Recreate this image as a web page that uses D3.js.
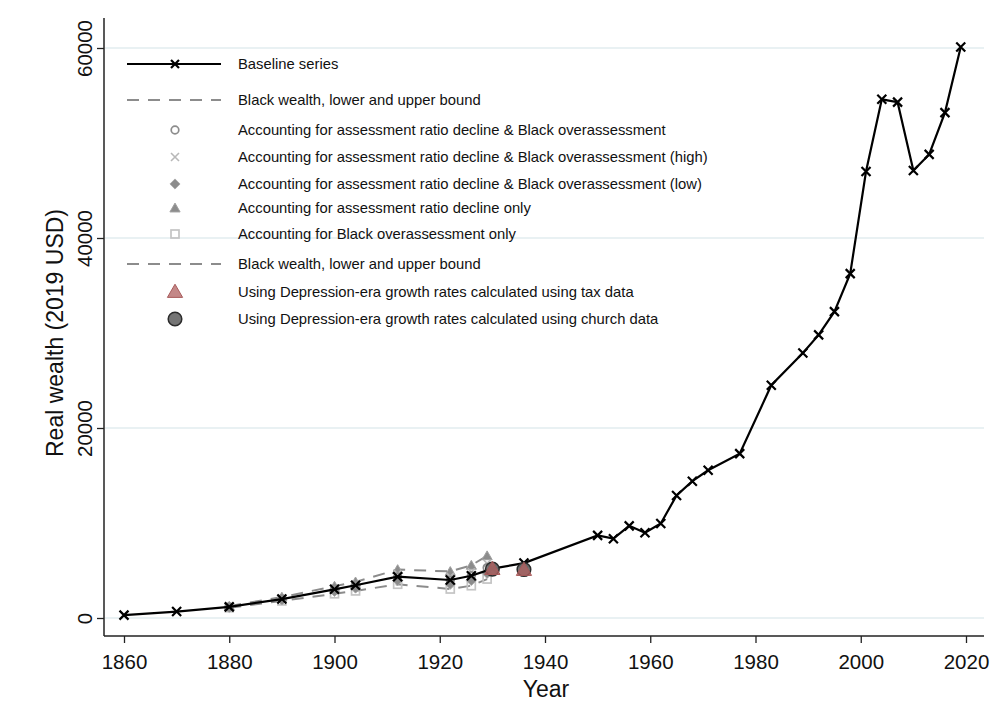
<!DOCTYPE html>
<html>
<head>
<meta charset="utf-8">
<script src="https://cdn.jsdelivr.net/npm/d3@7"></script>
<style>
  html, body { margin: 0; padding: 0; background: #fff; }
  svg { display: block; font-family: "Liberation Sans", Arial, sans-serif; }
</style>
</head>
<body>
<svg id="chart" width="999" height="727"></svg>
<script>
// Baseline series (real wealth, 2019 USD)
const baseYears  = [1860, 1870, 1880, 1890, 1900, 1904, 1912, 1922, 1926, 1930, 1936, 1950, 1953, 1956, 1959, 1962, 1965, 1968, 1971, 1977, 1983, 1989, 1992, 1995, 1998, 2001, 2004, 2007, 2010, 2013, 2016, 2019];
const baseValues = [300, 680, 1170, 1990, 3020, 3450, 4350, 4000, 4450, 5200, 5780, 8700, 8350, 9700, 8980, 9950, 12900, 14400, 15550, 17300, 24500, 27900, 29800, 32250, 36250, 47000, 54600, 54300, 47100, 48800, 53200, 60100];

// Alternative estimates, 1880-1929
const altYears   = [1880, 1890, 1900, 1904, 1912, 1922, 1926, 1929];
const upperBound = [1250, 2200, 3350, 3800, 5100, 4900, 5550, 6550];
const lowerBound = [1080, 1800, 2550, 2850, 3550, 3050, 3400, 4100];
const bothAdj    = [1170, 2000, 3000, 3420, 4320, 3980, 4450, 5300];
const bothHigh   = [1200, 2080, 3150, 3600, 4650, 4350, 4850, 5750];
const bothLow    = [1120, 1900, 2800, 3150, 3950, 3550, 3950, 4700];
const ratioOnly  = upperBound;
const overOnly   = lowerBound;

// Depression-era growth-rate estimates
const deprYears  = [1930, 1936];
const taxValues  = [5150, 5050];
const churchVals = [5150, 5100];

const xTicks = [1860, 1880, 1900, 1920, 1940, 1960, 1980, 2000, 2020];
const yTicks = [0, 20000, 40000, 60000];

const legendLabels = [
  "Baseline series",
  "Black wealth, lower and upper bound",
  "Accounting for assessment ratio decline & Black overassessment",
  "Accounting for assessment ratio decline & Black overassessment (high)",
  "Accounting for assessment ratio decline & Black overassessment (low)",
  "Accounting for assessment ratio decline only",
  "Accounting for Black overassessment only",
  "Black wealth, lower and upper bound",
  "Using Depression-era growth rates calculated using tax data",
  "Using Depression-era growth rates calculated using church data"
];

const svg = d3.select("#chart");
svg.append("rect").attr("width", 999).attr("height", 727).attr("fill", "#fff");

const x = d3.scaleLinear().domain([1860, 2020]).range([124, 966]);
const y = d3.scaleLinear().domain([0, 60000]).range([618, 48]);

const plotLeft = 104, plotRight = 984, axisY = 636, plotTop = 18;

// Gridlines
svg.append("g").selectAll("line").data(yTicks).join("line")
  .attr("x1", plotLeft + 1).attr("x2", plotRight)
  .attr("y1", d => y(d)).attr("y2", d => y(d))
  .attr("stroke", "#e9f1f3").attr("stroke-width", 2);

// Axes
const yAxis = d3.axisLeft(y).tickValues(yTicks).tickSize(7).tickFormat(d3.format("d"));
const gy = svg.append("g").attr("transform", `translate(${plotLeft},0)`).call(yAxis);
gy.select(".domain").remove();
gy.selectAll(".tick line").attr("stroke", "#222").attr("stroke-width", 1.3);
gy.selectAll(".tick text").remove();
gy.selectAll(".tick").append("text")
  .attr("transform", "translate(-19,0) rotate(-90)")
  .attr("text-anchor", "middle")
  .attr("dy", "0.36em")
  .attr("fill", "#111")
  .style("font-size", "20.5px")
  .text(d => d);

const xAxis = d3.axisBottom(x).tickValues(xTicks).tickSize(7).tickFormat(d3.format("d"));
const gx = svg.append("g").attr("transform", `translate(0,${axisY})`).call(xAxis);
gx.select(".domain").remove();
gx.selectAll(".tick line").attr("stroke", "#222").attr("stroke-width", 1.3);
gx.selectAll(".tick text").attr("fill", "#111").style("font-size", "20.5px").attr("dy", "1.1em")
  .attr("font-family", "Liberation Sans, Arial, sans-serif");

svg.append("line").attr("x1", plotLeft).attr("x2", plotLeft).attr("y1", plotTop).attr("y2", axisY)
  .attr("stroke", "#222").attr("stroke-width", 1.5);
svg.append("line").attr("x1", plotLeft).attr("x2", plotRight).attr("y1", axisY).attr("y2", axisY)
  .attr("stroke", "#222").attr("stroke-width", 1.5);

// Axis titles
svg.append("text").attr("x", 546).attr("y", 697).attr("text-anchor", "middle")
  .style("font-size", "23px").attr("fill", "#111").text("Year");
svg.append("text").attr("transform", "translate(63,333) rotate(-90)").attr("text-anchor", "middle")
  .style("font-size", "23px").attr("fill", "#111").text("Real wealth (2019 USD)");

// Marker painters
const grayDark = "#8c8c8c", grayLight = "#b8b8b8";
function drawX(g, cx, cy, s, color, w) {
  g.append("path").attr("d", `M${cx - s},${cy - s}L${cx + s},${cy + s}M${cx - s},${cy + s}L${cx + s},${cy - s}`)
    .attr("stroke", color).attr("stroke-width", w).attr("fill", "none");
}
function drawCircle(g, cx, cy) {
  g.append("circle").attr("cx", cx).attr("cy", cy).attr("r", 3.8)
    .attr("fill", "none").attr("stroke", grayDark).attr("stroke-width", 1.7);
}
function drawDiamond(g, cx, cy) {
  g.append("rect").attr("x", -3.6).attr("y", -3.6).attr("width", 7.2).attr("height", 7.2)
    .attr("transform", `translate(${cx},${cy}) rotate(45)`)
    .attr("fill", grayDark).attr("stroke", "#a8a8a8").attr("stroke-width", 0.8);
}
function drawTriangle(g, cx, cy, size, fill, stroke) {
  g.append("path").attr("d", d3.symbol(d3.symbolTriangle, size)()).attr("transform", `translate(${cx},${cy + 1})`)
    .attr("fill", fill).attr("stroke", stroke).attr("stroke-width", 1);
}
function drawSquare(g, cx, cy) {
  g.append("rect").attr("x", cx - 4).attr("y", cy - 4).attr("width", 8).attr("height", 8)
    .attr("fill", "none").attr("stroke", "#c4c4c4").attr("stroke-width", 1.7);
}
function drawBigCircle(g, cx, cy) {
  g.append("circle").attr("cx", cx).attr("cy", cy).attr("r", 6.8)
    .attr("fill", "#6e6e6e").attr("stroke", "#2c2c2c").attr("stroke-width", 1.5).attr("fill-opacity", 0.95);
}
function drawBigTriangle(g, cx, cy) {
  drawTriangle(g, cx, cy, 100, "rgba(175,95,95,0.75)", "#a85a5a");
}

const plot = svg.append("g");
const line = d3.line().x(d => x(d[0])).y(d => y(d[1]));

// Bounds (dashed)
[upperBound, lowerBound].forEach(vals => {
  plot.append("path").datum(altYears.map((yr, i) => [yr, vals[i]]))
    .attr("d", line).attr("fill", "none").attr("stroke", grayDark)
    .attr("stroke-width", 2).attr("stroke-dasharray", "12 9");
});

// Alternative estimate markers
altYears.forEach((yr, i) => {
  const cx = x(yr);
  drawSquare(plot, cx, y(overOnly[i]));
  drawTriangle(plot, cx, y(ratioOnly[i]), 45, grayDark, "#a0a0a0");
  drawDiamond(plot, cx, y(bothLow[i]));
  drawX(plot, cx, y(bothHigh[i]), 3.5, grayLight, 1.6);
  drawCircle(plot, cx, y(bothAdj[i]));
});

// Baseline series
plot.append("path").datum(baseYears.map((yr, i) => [yr, baseValues[i]]))
  .attr("d", line).attr("fill", "none").attr("stroke", "#000").attr("stroke-width", 2.2);
baseYears.forEach((yr, i) => drawX(plot, x(yr), y(baseValues[i]), 4.5, "#000", 2.2));

// Depression-era estimates
deprYears.forEach((yr, i) => {
  drawBigCircle(plot, x(yr), y(churchVals[i]));
  drawBigTriangle(plot, x(yr), y(taxValues[i]));
});

// Legend
const lg = svg.append("g");
const rowY = [64, 100, 130, 157, 184, 208, 234, 264, 292, 319];
const sx1 = 127, sx2 = 221, smid = 175, tx = 238;
legendLabels.forEach((lab, i) => {
  lg.append("text").attr("x", tx).attr("y", rowY[i]).attr("dy", "0.35em")
    .style("font-size", "14.8px").attr("fill", "#111").text(lab);
});
lg.append("line").attr("x1", sx1).attr("x2", sx2).attr("y1", rowY[0]).attr("y2", rowY[0])
  .attr("stroke", "#000").attr("stroke-width", 2.2);
drawX(lg, smid, rowY[0], 4, "#000", 2.2);
[1, 7].forEach(i => {
  lg.append("line").attr("x1", sx1).attr("x2", sx2).attr("y1", rowY[i]).attr("y2", rowY[i])
    .attr("stroke", grayDark).attr("stroke-width", 2).attr("stroke-dasharray", "12 9");
});
drawCircle(lg, smid, rowY[2]);
drawX(lg, smid, rowY[3], 4, grayLight, 1.6);
drawDiamond(lg, smid, rowY[4]);
drawTriangle(lg, smid, rowY[5], 45, grayDark, "#a0a0a0");
drawSquare(lg, smid, rowY[6]);
drawBigTriangle(lg, smid, rowY[8]);
drawBigCircle(lg, smid, rowY[9]);
</script>
</body>
</html>
